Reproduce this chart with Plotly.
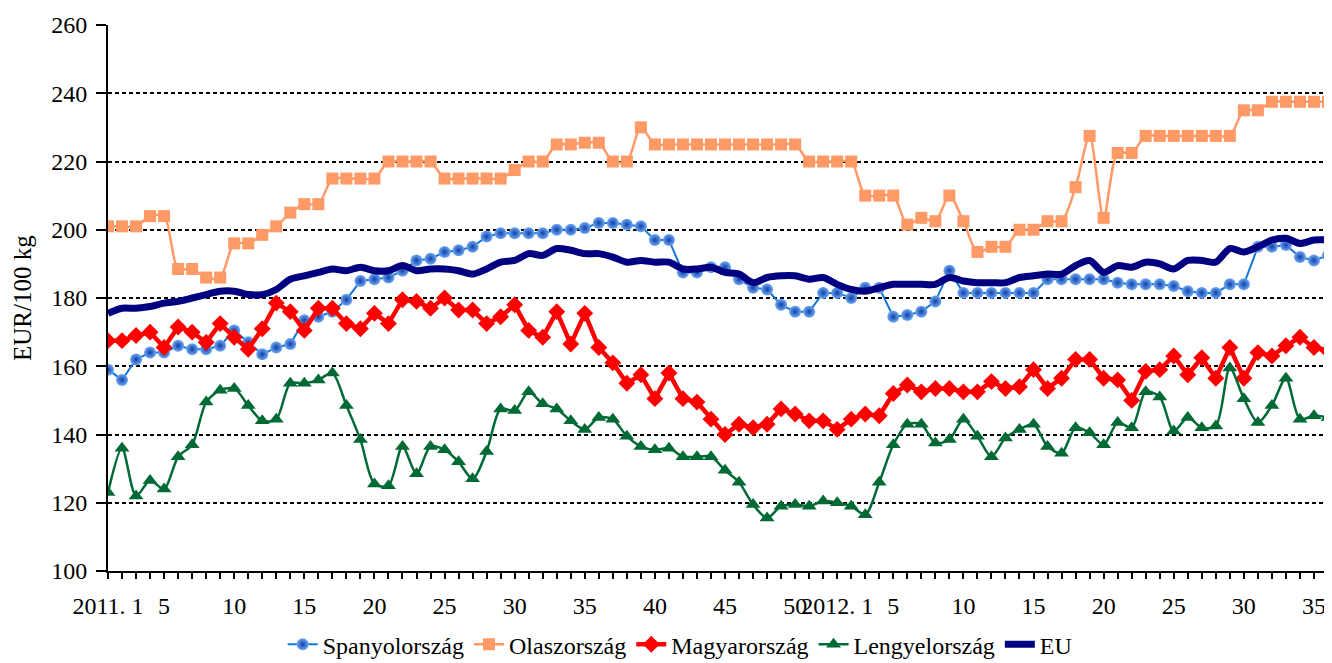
import plotly.graph_objects as go

# --- data (weekly prices, EUR/100 kg) ---
weeks_2011 = list(range(1, 53))
weeks_2012 = list(range(1, 37))
week_labels = [f"2011. {w}" for w in weeks_2011] + [f"2012. {w}" for w in weeks_2012]

spanyol = [159, 156, 162, 164, 164, 166, 165, 165, 166, 170.5, 167, 163.5, 165.5, 166.5, 173.5, 174.5,
           176, 179.5, 185, 185.5, 186, 188, 191, 191.5, 193.5, 194, 195, 198, 199, 199,
           199, 199, 200, 200, 200.5, 202, 202, 201.5, 201, 197, 197, 187.5, 187.5, 189, 189, 185.5,
           183, 182.5, 178, 176, 176, 181.5, 181.5, 180, 183, 183, 174.5, 175, 176, 179,
           188, 181.5, 181.5, 181.5, 181.5, 181.5, 181.5, 185.5, 185.5, 185.5, 185.5, 185.5, 184.5, 184,
           184, 184, 183.5, 182, 181.5, 181.5, 184, 184, 195, 195, 195.5, 192, 191, 192.5]

olasz = [201, 201, 201, 204, 204, 188.5, 188.5, 186, 186, 196, 196, 198.5, 201, 205, 207.5, 207.5,
         215, 215, 215, 215, 220, 220, 220, 220, 215, 215, 215, 215, 215, 217.5,
         220, 220, 225, 225, 225.5, 225.5, 220, 220, 230, 225, 225, 225, 225, 225, 225, 225,
         225, 225, 225, 225, 220, 220, 220, 220, 210, 210, 210, 201.5, 203.5, 202.5,
         210, 202.5, 193.5, 195, 195, 200, 200, 202.5, 202.5, 212.5, 227.5, 203.5, 222.5, 222.5,
         227.5, 227.5, 227.5, 227.5, 227.5, 227.5, 227.5, 235, 235, 237.5, 237.5, 237.5, 237.5, 237.5]

magyar = [167.5, 167.5, 169, 170, 165.5, 171.5, 170, 167, 172.5, 168.5, 165, 171, 178.5, 176, 170.5, 177,
          177, 172.5, 171, 175.5, 172.5, 179.5, 179, 177, 180, 176.5, 176.5, 172.5, 174.5, 178,
          170.5, 168.5, 176, 166.5, 175.5, 165.5, 161, 155, 157.5, 150.5, 158, 150.5, 149.5, 144.5, 140, 143,
          142, 143, 147.5, 146, 144, 144, 141.5, 144.5, 146, 145.5, 152, 154.5, 152.5, 153.5,
          153.5, 152.5, 152.5, 155.5, 153.5, 154, 159, 153.5, 156.5, 162, 162, 156.5, 156, 150,
          158.5, 159, 163, 157.5, 162.5, 156.5, 165.5, 156.5, 164, 163, 166, 168.5, 165.5, 164.5]

lengyel = [123, 136, 122, 126.5, 124, 133.5, 137, 149.5, 153, 153.5, 148.5, 144, 144.5, 155, 155, 156,
           158, 148.5, 138.5, 125.5, 125, 136.5, 128.5, 136.5, 135.5, 132, 127, 135, 147.5, 147,
           152.5, 149, 147.5, 144, 141.5, 145, 144.5, 139.5, 136.5, 135.5, 136, 133.5, 133.5, 133.5, 129.5, 126,
           119.5, 115.5, 119, 119.5, 119, 120.5, 120, 119, 116.5, 126, 137, 143, 143, 137.5,
           138.5, 144.5, 139.5, 133.5, 139, 141.5, 143, 136.5, 134.5, 142, 140.5, 137, 143.5, 142,
           152.5, 151, 141, 145, 142, 142.5, 159.5, 150.5, 143.5, 148.5, 156.5, 144.5, 145.5, 145]

eu = [175.5, 177, 177, 177.5, 178.5, 179, 180, 181, 182, 182, 181, 181, 182.5, 185.5, 186.5, 187.5,
      188.5, 188, 189, 188, 188, 189.5, 188, 188.5, 188.5, 188, 187, 188.5, 190.5, 191,
      193, 192.5, 194.5, 194, 193, 193, 192, 190.5, 191, 190.5, 190.5, 188.5, 188.5, 189, 187.5, 187,
      184.5, 186, 186.5, 186.5, 185.5, 186, 184, 182.5, 182, 183, 184, 184, 184, 184,
      186, 185, 184.5, 184.5, 184.5, 186, 186.5, 187, 187, 189.5, 191, 187.5, 189.5, 189,
      190.5, 190, 188.5, 191, 191, 190.5, 194.5, 193.5, 195, 197, 197.5, 196, 197, 197]

shown_labels = {"2011. 1": "2011. 1", "2012. 1": "2012. 1"}
for y, wk in (("2011", weeks_2011), ("2012", weeks_2012)):
    for w in wk:
        if w % 5 == 0:
            shown_labels[f"{y}. {w}"] = str(w)

x = list(range(len(week_labels)))
ticktext = [shown_labels.get(lbl, "") for lbl in week_labels]

FONT = "Liberation Serif, Times New Roman, serif"

fig = go.Figure()
fig.add_trace(go.Scatter(
    x=x, y=spanyol, name="Spanyolország", mode="lines+markers",
    line=dict(color="#1477D6", width=2),
    marker=dict(symbol="circle", size=12, color="#6FA8F5",
                gradient=dict(type="radial", color="#1040A8"),
                line=dict(width=0)),
))
fig.add_trace(go.Scatter(
    x=x, y=olasz, name="Olaszország", mode="lines+markers",
    line=dict(color="#FF9966", width=2.5, shape="spline", smoothing=0.8),
    marker=dict(symbol="square", size=12, color="#FF9966"),
))
fig.add_trace(go.Scatter(
    x=x, y=magyar, name="Magyarország", mode="lines+markers",
    line=dict(color="#FF0000", width=4.5),
    marker=dict(symbol="diamond", size=13, color="#FF0000"),
))
fig.add_trace(go.Scatter(
    x=x, y=lengyel, name="Lengyelország", mode="lines+markers",
    line=dict(color="#006A35", width=2.5, shape="spline", smoothing=0.8),
    marker=dict(symbol="triangle-up", size=13, color="#006A35"),
))
fig.add_trace(go.Scatter(
    x=x, y=eu, name="EU", mode="lines",
    line=dict(color="#000080", width=7, shape="spline", smoothing=0.8),
))

# the page body has an 8px margin, so the figure is sized/offset to land on the window
fig.update_layout(
    width=1324, height=655,
    margin=dict(l=100, r=4, t=17, b=92, autoexpand=False),
    paper_bgcolor="white", plot_bgcolor="white",
    font=dict(family=FONT, size=24, color="black"),
    showlegend=True,
    legend=dict(orientation="h", x=0.469, xanchor="center", y=-0.135, yanchor="middle",
                font=dict(family=FONT, size=24), itemwidth=30, tracegroupgap=0),
    xaxis=dict(
        range=[0, len(x) - 1], tickmode="array", tickvals=x, ticktext=ticktext,
        ticks="outside", ticklen=6, tickwidth=1.5, tickcolor="black",
        showline=True, linecolor="black", linewidth=2, showgrid=False, zeroline=False,
        tickangle=0, tickfont=dict(family=FONT, size=24), automargin=False,
        ticklabelstandoff=6,
    ),
    yaxis=dict(
        range=[100, 260], dtick=20, tick0=100,
        ticks="outside", ticklen=10, tickwidth=1.5, tickcolor="black",
        showline=True, linecolor="black", linewidth=2,
        showgrid=True, gridcolor="black", gridwidth=2, griddash="4px,3px",
        zeroline=False, tickfont=dict(family=FONT, size=24), automargin=False,
        ticklabelstandoff=4,
    ),
    annotations=[dict(text="EUR/100 kg", textangle=-90, xref="paper", yref="paper",
                      x=-0.0705, y=0.5, xanchor="center", yanchor="middle", showarrow=False,
                      font=dict(family=FONT, size=25))],
)

fig.write_html("out.html")
